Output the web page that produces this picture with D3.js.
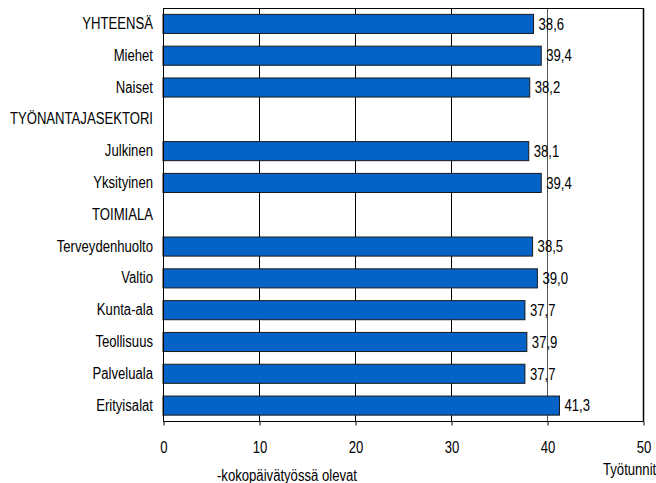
<!DOCTYPE html>
<html><head><meta charset="utf-8">
<script src="https://cdn.jsdelivr.net/npm/d3@7"></script>
<style>body{margin:0;background:#fff}text{font-family:"Liberation Sans",Arial,sans-serif}</style>
</head><body><svg id="c" width="656" height="483"></svg>
<script>
const categories = ["YHTEENSÄ","Miehet","Naiset","TYÖNANTAJASEKTORI","Julkinen","Yksityinen","TOIMIALA","Terveydenhuolto","Valtio","Kunta-ala","Teollisuus","Palveluala","Erityisalat"];
const values = [38.6,39.4,38.2,null,38.1,39.4,null,38.5,39.0,37.7,37.9,37.7,41.3];
const xTicks = [0,10,20,30,40,50];
const xTitle = "Työtunnit";
const subTitle = "-kokopäivätyössä olevat";

const FF = "'Liberation Sans',Arial,sans-serif";
const SX = 0.82;
const svg = d3.select("#c");
const L=163,R=643,T=8,B=421.5;
const x = d3.scaleLinear().domain([0,50]).range([L,R]);
const y = d3.scaleBand().domain(categories).range([T,B]).paddingInner(0.4).paddingOuter(0.2);
const fmt = v => d3.format(".1f")(v).replace(".",",");

// horizontally condense text around its anchor
function condense(sel){
  sel.each(function(){
    const t = d3.select(this);
    const tx = +t.attr("x")||0, ty = +t.attr("y")||0;
    t.attr("x",0).attr("y",0).attr("transform",`translate(${tx},${ty}) scale(${SX},1)`)
     .attr("font-family",FF).attr("font-size",16).attr("fill","#000");
  });
}

// gridlines
svg.append("g").selectAll("line").data(xTicks.filter(t=>t>0&&t<50)).join("line")
  .attr("x1",d=>x(d)+0.5).attr("x2",d=>x(d)+0.5).attr("y1",T).attr("y2",B)
  .attr("stroke",d=>d===40?"#555":"#000").attr("stroke-width",1);
// frame
svg.append("line").attr("x1",L).attr("x2",R+0.5).attr("y1",T+0.5).attr("y2",T+0.5).attr("stroke","#000");
svg.append("line").attr("x1",R+0.5).attr("x2",R+0.5).attr("y1",T).attr("y2",B).attr("stroke","#000").attr("stroke-width",1.5);

// bars
const data = categories.map((c,i)=>({c,v:values[i]})).filter(d=>d.v!=null);
svg.append("g").selectAll("rect").data(data).join("rect")
  .attr("x",x(0)).attr("y",d=>y(d.c)).attr("width",d=>x(d.v)-x(0)).attr("height",y.bandwidth())
  .attr("fill","#0563C8").attr("stroke","#1a1a1a").attr("stroke-width",1);
svg.append("g").selectAll("text").data(data).join("text")
  .attr("x",d=>x(d.v)+5).attr("y",d=>y(d.c)+y.bandwidth()/2).attr("dy","0.36em")
  .text(d=>fmt(d.v)).call(condense);

// y axis
const ya = svg.append("g").attr("transform",`translate(${L+0.5},0)`)
  .call(d3.axisLeft(y).tickSize(0).tickPadding(10.5));
ya.select(".domain").attr("stroke","#000").attr("d",`M0,${T}V${B}`);
ya.selectAll("text").call(condense);

// x axis
const xa = svg.append("g").attr("transform",`translate(0.5,${B})`)
  .call(d3.axisBottom(x).tickValues(xTicks).tickSize(4).tickPadding(16).tickFormat(d3.format("d")));
xa.select(".domain").attr("stroke","#000").attr("d",`M${L},0H${R}`);
xa.selectAll("line").attr("stroke","#000");
xa.selectAll("text").call(condense);

svg.append("text").attr("x",603).attr("y",475).attr("text-anchor","start").text(xTitle).call(condense);
svg.append("text").attr("x",217).attr("y",481).attr("text-anchor","start").text(subTitle).call(condense);
</script></body></html>
